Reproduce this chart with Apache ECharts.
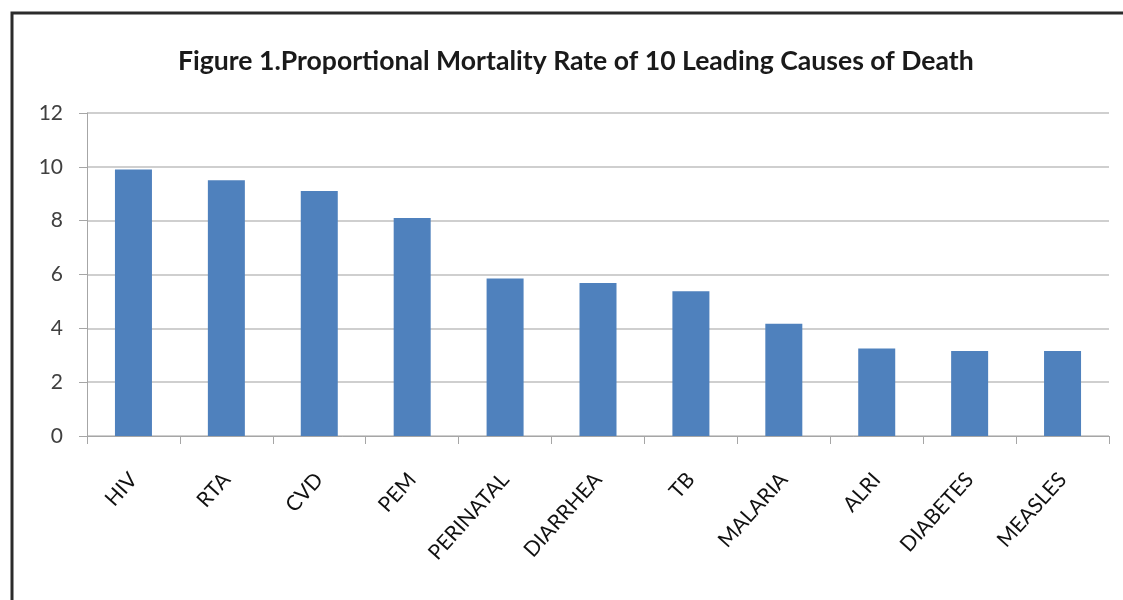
<!DOCTYPE html>
<html>
<head>
<meta charset="utf-8">
<script src="https://cdn.jsdelivr.net/npm/echarts@6/dist/echarts.min.js"></script>
<style>html,body{margin:0;padding:0;background:#fff;}#c{width:1123px;height:600px;}</style>
</head>
<body>
<div id="c"></div>
<script>
const categories = ['HIV','RTA','CVD','PEM','PERINATAL','DIARRHEA','TB','MALARIA','ALRI','DIABETES','MEASLES'];
const values = [9.9, 9.5, 9.1, 8.1, 5.85, 5.68, 5.38, 4.17, 3.25, 3.16, 3.16];
const titleText = 'Figure 1.Proportional Mortality Rate of 10 Leading Causes of Death';

const chart = echarts.init(document.getElementById('c'), null, {renderer:'canvas'});
chart.setOption({
  backgroundColor:'#ffffff',
  animation:false,
  title:{
    text:titleText, left:173, top:43,
    textStyle:{fontFamily:'Lato', fontWeight:'bold', fontSize:26.6, color:'#1a1a1a'}
  },
  graphic:[
    {type:'polyline', shape:{points:[[12,620],[12,13],[1130,13]]},
     style:{stroke:'#2b2b2b', lineWidth:3, fill:null}, z:10}
  ],
  grid:{left:87, right:14, top:113, bottom:164, containLabel:false},
  xAxis:{
    type:'category', data:categories,
    axisLine:{lineStyle:{color:'#a6a6a6', width:1}},
    axisTick:{show:true, length:8, alignWithLabel:false, lineStyle:{color:'#a6a6a6'}},
    axisLabel:{rotate:48, margin:40, interval:0, fontFamily:'Lato', fontSize:21, color:'#111111'}
  },
  yAxis:{
    type:'value', min:0, max:12, interval:2,
    axisLine:{show:true, lineStyle:{color:'#a6a6a6'}},
    axisTick:{show:true, length:8, lineStyle:{color:'#a6a6a6'}},
    axisLabel:{margin:24, fontFamily:'Lato', fontSize:21, color:'#404040'},
    splitLine:{lineStyle:{color:'#bfbfbf', width:1.5}}
  },
  series:[{
    type:'bar', data:values, barWidth:37,
    itemStyle:{color:'#4f81bd'}
  }]
});
</script>
</body>
</html>
